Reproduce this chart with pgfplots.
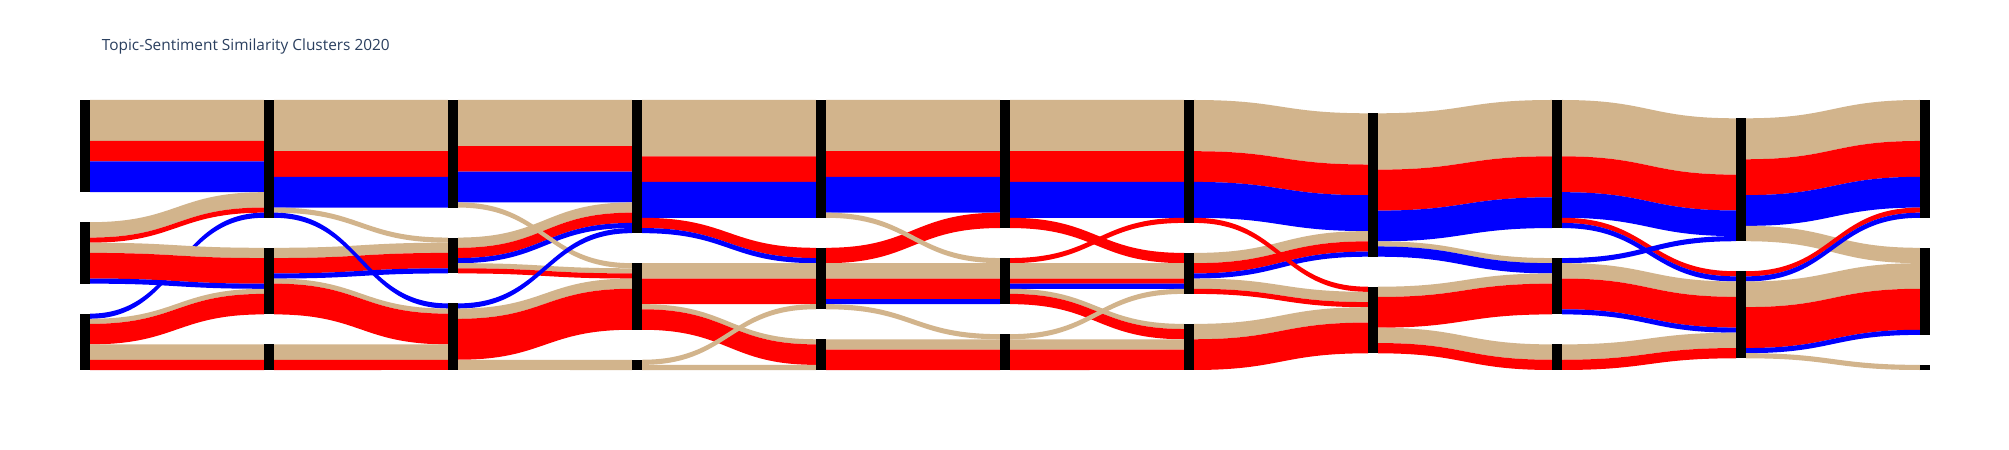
\documentclass[border=0pt]{standalone}
\usepackage{fontspec}
\setmainfont{Open Sans}
\usepackage{pgfplots}
\usepackage{pgfplotstable}
\pgfplotsset{compat=1.18}
\definecolor{lktan}{HTML}{D2B48C}
\definecolor{lkred}{HTML}{FF0000}
\definecolor{lkblue}{HTML}{0000FF}
\definecolor{titlecol}{HTML}{2A3F5F}

% nodes: column, top (px), size (units)
\pgfplotstableread{
col top units
1 100 18
1 222.20 12
1 313.66 11
2 100 23
2 247.81 13
2 344.40 5
3 100 21
3 237.56 7
3 303.41 13
4 100 26
4 263.17 13
4 359.76 2
5 100 23
5 247.81 12
5 339.27 6
6 100 25
6 258.05 9
6 334.15 7
7 100 24
7 252.93 8
7 323.90 9
8 113.30 28
8 286.72 13
9 100 25
9 258.05 11
9 344.39 5
10 118.30 24
10 271.23 17
11 100 23
11 247.81 17
11 364.88 1
}\nodetable

% links: source column, source node top, offset in source, target node top, offset in target, value, colour
\pgfplotstableread{
s ys so yt to v c
1 100 0 100 0 8 lktan
1 100 8 100 8 4 lkred
1 100 12 100 12 6 lkblue
1 222.20 0 100 18 3 lktan
1 222.20 3 100 21 1 lkred
1 313.66 0 100 22 1 lkblue
1 222.20 4 247.81 0 2 lktan
1 222.20 6 247.81 2 5 lkred
1 222.20 11 247.81 7 1 lkblue
1 313.66 1 247.81 8 1 lktan
1 313.66 2 247.81 9 4 lkred
1 313.66 6 344.40 0 3 lktan
1 313.66 9 344.40 3 2 lkred
2 100 0 100 0 10 lktan
2 100 10 100 10 5 lkred
2 100 15 100 15 6 lkblue
2 100 21 237.56 0 1 lktan
2 247.81 0 237.56 1 2 lktan
2 247.81 2 237.56 3 3 lkred
2 247.81 5 237.56 6 1 lkblue
2 100 22 303.41 0 1 lkblue
2 247.81 6 303.41 1 1 lktan
2 247.81 7 303.41 2 6 lkred
2 344.40 0 303.41 8 3 lktan
2 344.40 3 303.41 11 2 lkred
3 100 0 100 0 9 lktan
3 100 9 100 9 5 lkred
3 100 14 100 14 6 lkblue
3 237.56 0 100 20 2 lktan
3 237.56 2 100 22 2 lkred
3 237.56 4 100 24 1 lkblue
3 237.56 5 263.17 1 1 lktan
3 237.56 6 263.17 2 1 lkred
3 100 20 263.17 0 1 lktan
3 303.41 0 100 25 1 lkblue
3 303.41 1 263.17 3 2 lktan
3 303.41 3 263.17 5 8 lkred
3 303.41 11 359.76 0 2 lktan
4 100 0 100 0 11 lktan
4 100 11 100 11 5 lkred
4 100 16 100 16 7 lkblue
4 100 23 247.81 0 2 lkred
4 100 25 247.81 2 1 lkblue
4 263.17 0 247.81 3 3 lktan
4 263.17 3 247.81 6 5 lkred
4 263.17 8 339.27 0 1 lktan
4 263.17 9 339.27 1 4 lkred
4 359.76 0 247.81 11 1 lktan
4 359.76 1 339.27 5 1 lktan
5 100 0 100 0 10 lktan
5 100 10 100 10 5 lkred
5 100 15 100 15 7 lkblue
5 247.81 0 100 22 3 lkred
5 100 22 258.05 0 1 lktan
5 247.81 3 258.05 1 3 lktan
5 247.81 6 258.05 4 4 lkred
5 247.81 10 258.05 8 1 lkblue
5 247.81 11 334.15 0 1 lktan
5 339.27 0 334.15 1 2 lktan
5 339.27 2 334.15 3 4 lkred
6 100 0 100 0 10 lktan
6 100 10 100 10 6 lkred
6 100 16 100 16 7 lkblue
6 100 23 252.93 0 2 lkred
6 258.05 0 100 23 1 lkred
6 258.05 1 252.93 2 3 lktan
6 258.05 4 252.93 5 1 lkred
6 258.05 5 252.93 6 1 lkblue
6 258.05 6 323.90 0 1 lktan
6 258.05 7 323.90 1 2 lkred
6 334.15 0 252.93 7 1 lktan
6 334.15 1 323.90 3 2 lktan
6 334.15 3 323.90 5 4 lkred
7 100 0 113.30 0 10 lktan
7 100 10 113.30 10 6 lkred
7 100 16 113.30 16 7 lkblue
7 252.93 0 113.30 23 2 lktan
7 252.93 2 113.30 25 2 lkred
7 252.93 4 113.30 27 1 lkblue
7 100 23 286.72 0 1 lkred
7 252.93 5 286.72 1 2 lktan
7 252.93 7 286.72 3 1 lkred
7 323.90 0 286.72 4 3 lktan
7 323.90 3 286.72 7 6 lkred
8 113.30 0 100 0 11 lktan
8 113.30 11 100 11 8 lkred
8 113.30 19 100 19 6 lkblue
8 113.30 25 258.05 0 1 lktan
8 113.30 26 258.05 1 2 lkblue
8 286.72 0 258.05 3 2 lktan
8 286.72 2 258.05 5 6 lkred
8 286.72 8 344.39 0 3 lktan
8 286.72 11 344.39 3 2 lkred
9 100 0 118.30 0 11 lktan
9 100 11 118.30 11 7 lkred
9 100 18 118.30 18 5 lkblue
9 100 23 271.23 0 1 lkred
9 100 24 271.23 1 1 lkblue
9 258.05 0 118.30 23 1 lkblue
9 258.05 1 271.23 2 3 lktan
9 258.05 4 271.23 5 6 lkred
9 258.05 10 271.23 11 1 lkblue
9 344.39 0 271.23 12 3 lktan
9 344.39 3 271.23 15 2 lkred
10 118.30 0 100 0 8 lktan
10 118.30 8 100 8 7 lkred
10 118.30 15 100 15 6 lkblue
10 118.30 21 247.81 0 3 lktan
10 271.23 0 100 21 1 lkred
10 271.23 1 100 22 1 lkblue
10 271.23 2 247.81 3 5 lktan
10 271.23 7 247.81 8 8 lkred
10 271.23 15 247.81 16 1 lkblue
10 271.23 16 364.88 0 1 lktan
}\linktable

\pgfmathsetmacro\unitpx{210/41}

\begin{document}
\begin{tikzpicture}
\begin{axis}[
  width=2009bp, height=450bp, scale only axis,
  xmin=0, xmax=2009, ymin=0, ymax=450,
  y dir=reverse, hide axis, clip=false]
\fill[white] (axis cs:0,0) rectangle (axis cs:2009,450);
% links
\pgfplotstablegetrowsof{\linktable}
\pgfmathtruncatemacro\nlinks{\pgfplotsretval-1}
\pgfplotsinvokeforeach{0,...,\nlinks}{
  \pgfplotstablegetelem{#1}{s}\of\linktable \let\lkS\pgfplotsretval
  \pgfplotstablegetelem{#1}{ys}\of\linktable \let\lkYS\pgfplotsretval
  \pgfplotstablegetelem{#1}{so}\of\linktable \let\lkSO\pgfplotsretval
  \pgfplotstablegetelem{#1}{yt}\of\linktable \let\lkYT\pgfplotsretval
  \pgfplotstablegetelem{#1}{to}\of\linktable \let\lkTO\pgfplotsretval
  \pgfplotstablegetelem{#1}{v}\of\linktable \let\lkV\pgfplotsretval
  \pgfplotstablegetelem{#1}{c}\of\linktable \let\lkC\pgfplotsretval
  \pgfmathsetmacro\xa{90+184*(\lkS-1)}
  \pgfmathsetmacro\xb{80+184*\lkS}
  \pgfmathsetmacro\xm{(\xa+\xb)/2}
  \pgfmathsetmacro\ya{\lkYS+\lkSO*\unitpx}
  \pgfmathsetmacro\yb{\lkYT+\lkTO*\unitpx}
  \pgfmathsetmacro\yaa{\ya+\lkV*\unitpx}
  \pgfmathsetmacro\ybb{\yb+\lkV*\unitpx}
  \edef\cmd{\noexpand\fill[\lkC] (axis cs:\xa,\ya) .. controls (axis cs:\xm,\ya) and (axis cs:\xm,\yb) .. (axis cs:\xb,\yb) -- (axis cs:\xb,\ybb) .. controls (axis cs:\xm,\ybb) and (axis cs:\xm,\yaa) .. (axis cs:\xa,\yaa) -- cycle;}
  \cmd
}
% nodes
\pgfplotstablegetrowsof{\nodetable}
\pgfmathtruncatemacro\nnodes{\pgfplotsretval-1}
\pgfplotsinvokeforeach{0,...,\nnodes}{
  \pgfplotstablegetelem{#1}{col}\of\nodetable \let\ndC\pgfplotsretval
  \pgfplotstablegetelem{#1}{top}\of\nodetable \let\ndT\pgfplotsretval
  \pgfplotstablegetelem{#1}{units}\of\nodetable \let\ndU\pgfplotsretval
  \pgfmathsetmacro\nxa{80+184*(\ndC-1)}
  \pgfmathsetmacro\nxb{\nxa+10}
  \pgfmathsetmacro\nyb{\ndT+\ndU*\unitpx}
  \edef\cmd{\noexpand\fill[black] (axis cs:\nxa,\ndT) rectangle (axis cs:\nxb,\nyb);}
  \cmd
}
\node[anchor=base west, inner sep=0pt, text=titlecol, font=\fontsize{15.4bp}{18bp}\selectfont]
  at (axis cs:101.7,51) {Topic-Sentiment Similarity Clusters 2020};
\end{axis}
\end{tikzpicture}
\end{document}
